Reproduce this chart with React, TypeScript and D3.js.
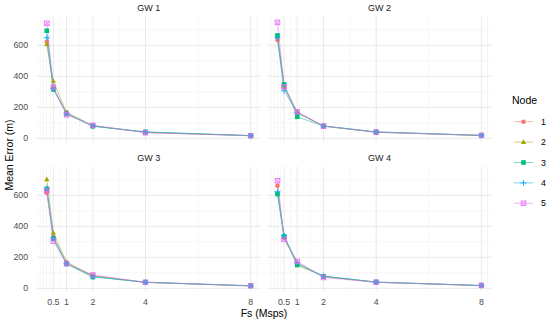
import React from "react";
import * as d3 from "d3";

// sample rate (Msps)
const fs = [0.25, 0.5, 1, 2, 4, 8];
const nodes = ["1", "2", "3", "4", "5"];
const gateways = ["GW 1", "GW 2", "GW 3", "GW 4"];

// mean error (m), one row per node
const gw1 = [
  [623, 325, 168, 82, 40, 17],
  [606, 370, 165, 80, 38, 17],
  [694, 316, 158, 78, 42, 18],
  [649, 320, 160, 79, 40, 17],
  [742, 330, 152, 84, 36, 17],
];
const gw2 = [
  [634, 330, 161, 80, 40, 19],
  [660, 340, 170, 78, 39, 18],
  [664, 348, 139, 79, 41, 19],
  [648, 307, 165, 80, 42, 19],
  [748, 333, 172, 79, 40, 19],
];
const gw3 = [
  [617, 333, 160, 82, 39, 16],
  [703, 359, 171, 80, 38, 15],
  [642, 320, 157, 73, 40, 17],
  [645, 326, 162, 76, 39, 16],
  [630, 305, 160, 86, 39, 17],
];
const gw4 = [
  [662, 325, 160, 76, 40, 18],
  [615, 330, 155, 78, 39, 17],
  [608, 336, 150, 77, 41, 18],
  [623, 339, 165, 79, 40, 18],
  [694, 316, 174, 70, 39, 19],
];
const panels = [gw1, gw2, gw3, gw4];

const xTicks = [0.5, 1, 2, 4, 8];
const xGrid = [0, 0.125, 0.25, 0.375, 0.75, 1.5, 3, 6, 8.23];
const yTicks = [0, 200, 400, 600];
const yMinor = [100, 300, 500, 700];

const colors = ["#F8766D", "#A3A500", "#00BF7D", "#00B0F6", "#E76BF3"];
const font = "'Liberation Sans', Arial, sans-serif";

const Marker = ({ i, x, y, c }: { i: number; x: number; y: number; c: string }) => {
  const r = 2.3;
  if (i === 0) return <circle cx={x} cy={y} r={r} fill={c} />;
  if (i === 1)
    return <path d={`M${x},${y - 2.8}L${x + 2.6},${y + 1.8}L${x - 2.6},${y + 1.8}Z`} fill={c} />;
  if (i === 2) return <rect x={x - r} y={y - r} width={r * 2} height={r * 2} fill={c} />;
  if (i === 3)
    return (
      <path d={`M${x - 3},${y}H${x + 3}M${x},${y - 3}V${y + 3}`} stroke={c} strokeWidth={0.9} />
    );
  return (
    <g stroke={c} strokeWidth={0.8} fill="none">
      <rect x={x - r} y={y - r} width={r * 2} height={r * 2} />
      <path d={`M${x - r},${y - r}L${x + r},${y + r}M${x + r},${y - r}L${x - r},${y + r}`} />
    </g>
  );
};

export default function App() {
  const width = 550;
  const height = 322;
  const pw = 224.3;
  const ph = 125;
  const px = [36.6, 267.3];
  const py = [16.7, 166.7];

  const all = panels.flat(2);
  const yMin = d3.min(all)!;
  const yMax = d3.max(all)!;
  const yPad = (yMax - yMin) * 0.05;
  const xPad = (fs[fs.length - 1] - fs[0]) * 0.05;

  const x = d3.scaleLinear().domain([fs[0] - xPad, fs[fs.length - 1] + xPad]).range([0, pw]);
  const y = d3.scaleLinear().domain([yMin - yPad, yMax + yPad]).range([ph, 0]);
  const line = d3
    .line<number>()
    .x((_, k) => x(fs[k]))
    .y((d) => y(d));

  return (
    <svg width={width} height={height} style={{ position: "absolute", left: 0, top: 0 }} fontFamily={font}>
      <rect width={width} height={height} fill="#fff" />
      {panels.map((series, p) => {
        const col = p % 2;
        const row = Math.floor(p / 2);
        return (
          <g key={p} transform={`translate(${px[col]},${py[row]})`}>
            {yMinor.map((t) => (
              <line key={"ym" + t} x1={0} x2={pw} y1={y(t)} y2={y(t)} stroke="#f2f2f2" strokeWidth={0.6} />
            ))}
            {xGrid.map((t) => (
              <line key={"xm" + t} x1={x(t)} x2={x(t)} y1={0} y2={ph} stroke="#f2f2f2" strokeWidth={0.6} />
            ))}
            {yTicks.map((t) => (
              <line key={"y" + t} x1={0} x2={pw} y1={y(t)} y2={y(t)} stroke="#e6e6e6" strokeWidth={0.9} />
            ))}
            {xTicks.map((t) => (
              <line key={"x" + t} x1={x(t)} x2={x(t)} y1={0} y2={ph} stroke="#e6e6e6" strokeWidth={0.9} />
            ))}
            <text x={pw / 2} y={-6} textAnchor="middle" fontSize={9} fill="#1a1a1a">
              {gateways[p]}
            </text>
            {col === 0 &&
              yTicks.map((t) => (
                <text key={"yl" + t} x={-8.5} y={y(t)} dy="0.35em" textAnchor="end" fontSize={8.8} fill="#4d4d4d">
                  {t}
                </text>
              ))}
            {row === 1 &&
              xTicks.map((t) => (
                <text key={"xl" + t} x={x(t)} y={ph + 10} dy="0.35em" textAnchor="middle" fontSize={8.8} fill="#4d4d4d">
                  {t}
                </text>
              ))}
            {series.map((vals, i) => (
              <path key={"l" + i} d={line(vals)!} fill="none" stroke={colors[i]} strokeWidth={0.7} opacity={0.75} />
            ))}
            {series.map((vals, i) =>
              vals.map((v, k) => <Marker key={`m${i}-${k}`} i={i} x={x(fs[k])} y={y(v)} c={colors[i]} />)
            )}
          </g>
        );
      })}
      <text x={264} y={313} dy="0.35em" textAnchor="middle" fontSize={10.5} fill="#000">
        Fs (Msps)
      </text>
      <text transform="translate(9,155) rotate(-90)" dy="0.35em" textAnchor="middle" fontSize={10.5} fill="#000">
        Mean Error (m)
      </text>
      <g>
        <text x={512} y={100} dy="0.35em" fontSize={10.5} fill="#000">
          Node
        </text>
        {nodes.map((n, i) => {
          const ky = 121.7 + i * 20.4;
          return (
            <g key={n}>
              <line x1={514} x2={533} y1={ky} y2={ky} stroke={colors[i]} strokeWidth={0.7} opacity={0.75} />
              <Marker i={i} x={523.5} y={ky} c={colors[i]} />
              <text x={541} y={ky} dy="0.35em" fontSize={8.8} fill="#000">
                {n}
              </text>
            </g>
          );
        })}
      </g>
    </svg>
  );
}
